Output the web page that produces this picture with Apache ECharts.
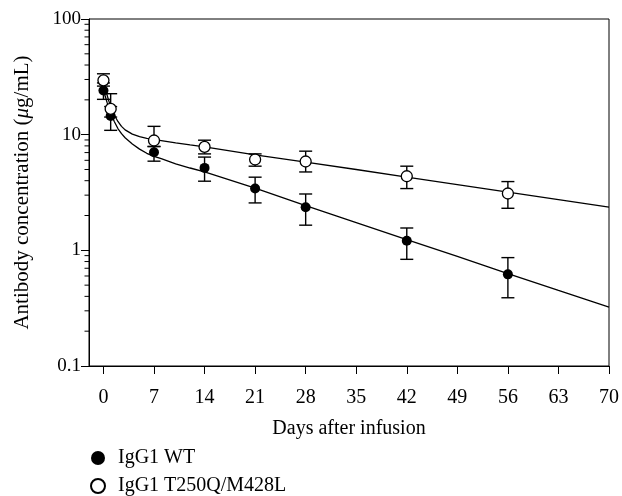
<!DOCTYPE html>
<html>
<head>
<meta charset="utf-8">
<script src="https://cdn.jsdelivr.net/npm/echarts@6/dist/echarts.min.js"></script>
<style>html,body{margin:0;padding:0;background:#fff}#c{width:622px;height:496px}</style>
</head>
<body>
<div id="c"></div>
<script>
// Measured points (days after infusion, concentration in µg/mL)
const days = [0, 1, 7, 14, 21, 28, 42, 56];
const wtMean = [24.1, 14.5, 7.05, 5.16, 3.42, 2.36, 1.21, 0.62];
const wtLow = [20.2, 10.9, 5.9, 3.96, 2.57, 1.65, 0.836, 0.389];
const wtHigh = [28, 17.5, 7.9, 6.4, 4.29, 3.07, 1.56, 0.865];
const mutMean = [29.5, 16.7, 8.9, 7.84, 6.1, 5.86, 4.37, 3.1];
const mutLow = [26.3, 14.2, 7.9, 6.82, 5.34, 4.76, 3.42, 2.31];
const mutHigh = [33.6, 22.6, 11.8, 8.96, 6.82, 7.2, 5.34, 3.93];
// Fitted curves
const fitDays = [0, 0.25, 0.5, 0.75, 1, 1.5, 2, 2.5, 3, 4, 5, 6, 7, 8, 10, 12, 14, 21, 28, 35, 42, 49, 56, 63, 70];
const wtFit = [24, 21.5, 19, 17, 15.5, 13, 11.3, 10.2, 9.4, 8.3, 7.5, 6.9, 6.5, 6.2, 5.6, 5.15, 4.77, 3.45, 2.43, 1.74, 1.24, 0.885, 0.63, 0.45, 0.323];
const mutFit = [29, 25.3, 22, 19.5, 17.5, 14.8, 13, 11.8, 11, 10.1, 9.6, 9.3, 9.1, 8.9, 8.5, 8.15, 7.84, 6.7, 5.8, 5.0, 4.3, 3.7, 3.19, 2.74, 2.36];
// Axis ticks
const X_MIN = -2, X_MAX = 70;
const xTicks = [0, 7, 14, 21, 28, 35, 42, 49, 56, 63, 70];
const yMajor = [0.1, 1, 10, 100];
const yMinor = [0.2, 0.3, 0.4, 0.5, 0.6, 0.7, 0.8, 0.9, 2, 3, 4, 5, 6, 7, 8, 9, 20, 30, 40, 50, 60, 70, 80, 90];
const seriesNames = ['IgG1 WT', 'IgG1 T250Q/M428L'];

const FONT = 'Liberation Serif';
const chart = echarts.init(document.getElementById('c'));

function zip2(a, b) { return a.map((v, i) => [v, b[i]]); }
function zip3(a, b, c) { return a.map((v, i) => [v, b[i], c[i]]); }

function errRender(params, api) {
  const x = api.value(0), lo = api.value(1), hi = api.value(2);
  const p1 = api.coord([x, lo]);
  const p2 = api.coord([x, hi]);
  const w = 6.5;
  const st = { stroke: '#000', lineWidth: 1.4 };
  return {
    type: 'group',
    children: [
      { type: 'line', shape: { x1: p1[0], y1: p1[1], x2: p2[0], y2: p2[1] }, style: st },
      { type: 'line', shape: { x1: p1[0] - w, y1: p1[1], x2: p1[0] + w, y2: p1[1] }, style: st },
      { type: 'line', shape: { x1: p2[0] - w, y1: p2[1], x2: p2[0] + w, y2: p2[1] }, style: st }
    ]
  };
}

function minorTickRender(params, api) {
  const c = api.coord([api.value(0), api.value(1)]);
  return { type: 'line', shape: { x1: c[0] - 4.5, y1: c[1], x2: c[0], y2: c[1] }, style: { stroke: '#000', lineWidth: 1 } };
}

const option = {
  animation: false,
  backgroundColor: '#fff',
  textStyle: { fontFamily: FONT },
  grid: { left: 89, right: 13, top: 19, bottom: 130, show: true, borderColor: '#000', borderWidth: 1, backgroundColor: 'transparent' },
  legend: {
    orient: 'vertical', left: 90, bottom: 0, padding: 0, itemGap: 8,
    icon: 'circle', itemWidth: 30, itemHeight: 14,
    data: seriesNames,
    textStyle: { fontFamily: FONT, fontSize: 20, color: '#000' }
  },
  xAxis: {
    type: 'value', min: X_MIN, max: X_MAX,
    name: 'Days after infusion', nameLocation: 'middle', nameGap: 53,
    nameTextStyle: { fontFamily: FONT, fontSize: 20, color: '#000' },
    axisLine: { show: true, onZero: false, lineStyle: { color: '#000', width: 1 } },
    axisTick: { show: true, customValues: xTicks, length: 8, lineStyle: { color: '#000' } },
    axisLabel: { customValues: xTicks, fontFamily: FONT, fontSize: 20, color: '#000', margin: 22 },
    splitLine: { show: false }
  },
  yAxis: {
    type: 'log', logBase: 10, min: 0.1, max: 100,
    name: '{n|Antibody concentration (}{i|μ}{n|g/mL)}', nameLocation: 'middle', nameGap: 56,
    nameTextStyle: { rich: { n: { fontFamily: FONT, fontSize: 21, color: '#000' }, i: { fontFamily: FONT, fontSize: 21, fontStyle: 'italic', color: '#000' } } },
    axisLine: { show: true, onZero: false, lineStyle: { color: '#000', width: 1 } },
    axisTick: { show: true, customValues: yMajor, length: 8, lineStyle: { color: '#000' } },
    axisLabel: { customValues: yMajor, fontFamily: FONT, fontSize: 19, color: '#000', margin: 8, formatter: v => String(v) },
    splitLine: { show: false }
  },
  series: [
    { type: 'custom', renderItem: minorTickRender, data: yMinor.map(v => [X_MIN, v]), clip: false, silent: true, z: 5 },
    { type: 'line', data: zip2(fitDays, wtFit), showSymbol: false, smooth: false, lineStyle: { color: '#000', width: 1.3 }, z: 1, silent: true },
    { type: 'line', data: zip2(fitDays, mutFit), showSymbol: false, smooth: false, lineStyle: { color: '#000', width: 1.3 }, z: 1, silent: true },
    { type: 'custom', renderItem: errRender, data: zip3(days, wtLow, wtHigh), encode: { x: 0, y: [1, 2] }, z: 2 },
    { type: 'custom', renderItem: errRender, data: zip3(days, mutLow, mutHigh), encode: { x: 0, y: [1, 2] }, z: 2 },
    { name: seriesNames[0], type: 'scatter', data: zip2(days, wtMean), symbol: 'circle', symbolSize: 10, itemStyle: { color: '#000', opacity: 1 }, z: 3 },
    { name: seriesNames[1], type: 'scatter', data: zip2(days, mutMean), symbol: 'circle', symbolSize: 11, itemStyle: { color: '#fff', borderColor: '#000', borderWidth: 1.3, opacity: 1 }, z: 4 }
  ]
};
chart.setOption(option);
</script>
</body>
</html>
